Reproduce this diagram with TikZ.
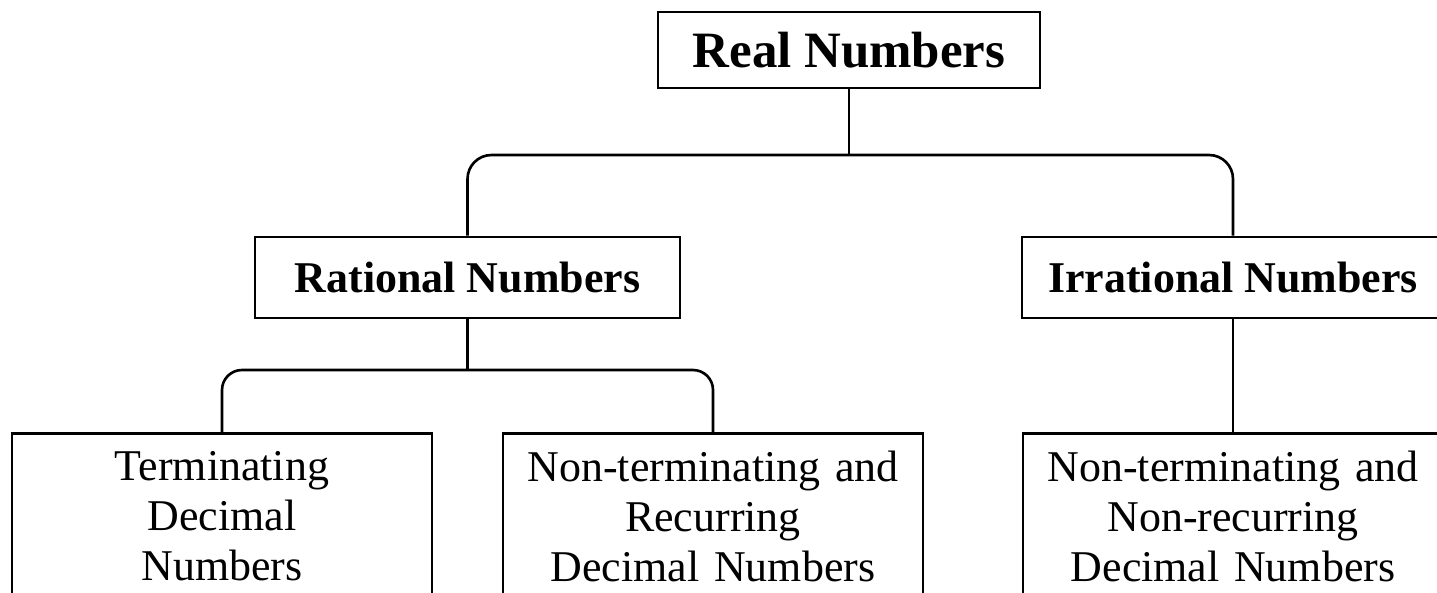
\documentclass[tikz,border=0pt]{standalone}
\usepackage{fontspec}
\setmainfont{Liberation Serif}
\usepackage{tikz}

\begin{document}
\begin{tikzpicture}[x=0.02cm, y=-0.02cm, line width=1.5pt,
    headbox/.style={draw, rectangle, inner sep=0pt, minimum height=1.62cm,
      font=\fontsize{25}{30}\selectfont\bfseries},
    leafbox/.style={draw, rectangle, inner sep=0pt, anchor=north, minimum width=8.4cm,
      minimum height=3.32cm, text width=8.2cm, align=center,
      font=\fontsize{25}{28.45}\selectfont}]
          \useasboundingbox (0,0) rectangle (1437,592);
          \clip (0,0) rectangle (1437,592);
          % top level
          \node [headbox, minimum width=7.64cm, minimum height=1.52cm,
            font=\fontsize{29}{34}\selectfont\bfseries] (real) at (849, 50) {Real Numbers};
          \node [headbox, minimum width=8.5cm] (rational) at (467.5, 277.5) {Rational Numbers};
          \node [headbox, minimum width=8.44cm] (irrational) at (1233, 277.5) {Irrational Numbers};
          % leaves
          \node [leafbox] (term) at (222, 432) {Terminating\\ Decimal\\ Numbers};
          \node [leafbox] (recur) at (713, 432) {Non-terminating and\\ Recurring\\ Decimal Numbers};
          \node [leafbox] (nonrecur) at (1233, 432) {Non-terminating and\\ Non-recurring\\ Decimal Numbers};
          % connectors
          \coordinate (fork1) at (849, 155);
          \coordinate (fork2) at (467.5, 370);
          \draw (real.south) -- (fork1);
          \draw [rounded corners=0.48cm] (rational.north) |- (fork1) -| (irrational.north);
          \draw (rational.south) -- (fork2);
          \draw [rounded corners=0.4cm] (term.north) |- (fork2) -| (recur.north);
          \draw (irrational.south) -- (nonrecur.north);
        \end{tikzpicture}
\end{document}
